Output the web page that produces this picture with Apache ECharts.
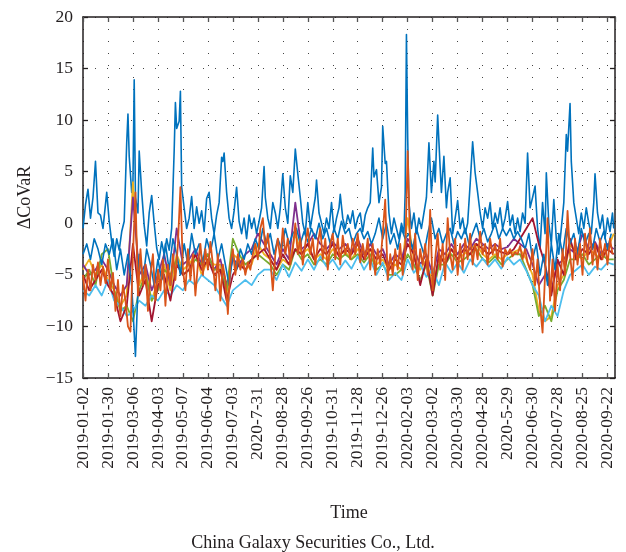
<!DOCTYPE html>
<html>
<head>
<meta charset="utf-8">
<script src="https://cdn.jsdelivr.net/npm/echarts@6/dist/echarts.min.js"></script>
<style>
  html, body { margin: 0; padding: 0; background: #fff; }
  #chart { width: 626px; height: 552px; }
</style>
</head>
<body>
<div id="chart"></div>
<script>
// Trading-day tick labels, one every 20 trading days
const dateLabels = [
  '2019-01-02', '2019-01-30', '2019-03-06', '2019-04-03', '2019-05-07', '2019-06-04',
  '2019-07-03', '2020-7-31', '2019-08-28', '2019-09-26', '2019-10-31', '2019-11-28',
  '2019-12-26', '2020-02-03', '2020-03-02', '2020-03-30', '2020-04-28', '2020-5-29',
  '2020-06-30', '2020-07-28', '2020-08-25', '2020-09-22'
];
const yTicks = [-15, -10, -5, 0, 5, 10, 15, 20];

// Upper ΔCoVaR path (trading-day index, value)
const blueMainDays = [
  0, 2, 4, 6, 8, 10, 12, 14, 16, 19,
  21, 23, 25, 27, 29, 31, 33, 35, 36, 37,
  38, 39, 40, 41, 42, 44, 45, 47, 49, 51,
  53, 55, 57, 59, 61, 63, 65, 67, 69, 71,
  73, 74, 75, 76, 77, 78, 79, 81, 83, 85,
  87, 89, 91, 93, 95, 97, 99, 101, 103, 105,
  107, 109, 111, 112, 113, 115, 117, 119, 121, 123,
  125, 127, 129, 131, 133, 135, 137, 139, 141, 143,
  145, 146, 148, 150, 152, 154, 156, 158, 160, 162,
  164, 166, 168, 170, 172, 174, 176, 178, 180, 182,
  184, 186, 187, 189, 191, 193, 195, 197, 199, 201,
  203, 205, 206, 208, 210, 212, 214, 216, 218, 220,
  222, 224, 226, 228, 230, 232, 233, 235, 237, 239,
  240, 242, 243, 245, 247, 249, 251, 253, 255, 257,
  258, 259, 260, 261, 263, 265, 267, 269, 271, 273,
  275, 277, 279, 281, 282, 284, 286, 287, 289, 291,
  292, 294, 296, 298, 300, 302, 304, 306, 308, 310,
  312, 314, 316, 318, 320, 322, 324, 326, 328, 330,
  332, 334, 336, 338, 340, 342, 344, 346, 348, 350,
  352, 354, 356, 358, 360, 362, 364, 366, 368, 370,
  371, 373, 375, 377, 379, 381, 383, 385, 387, 388,
  390, 391, 393, 395, 397, 399, 401, 403, 405, 407,
  409, 410, 412, 414, 416, 418, 420, 422, 424, 425
];
const blueMainVals = [
  -0.5, 1.8, 3.3, 0.5, 2.5, 6.0, 1.0, 0.8, -0.5, 3.0,
  0.2, -1.8, -3.2, -1.5, -2.6, -0.8, 0.2, 7.8, 10.6, 6.5,
  6.4, 3.0, 4.0, 13.9, 2.5, 1.0, 7.0, 3.0, -0.2, -2.2,
  1.0, 2.7, 0.0, -2.4, -3.5, -1.8, -3.0, -1.5, -2.6, -0.5,
  7.0, 11.7, 9.2, 9.3, 9.9, 12.8, 3.5, 1.5, -0.5, 0.5,
  2.6, -0.5, 1.6, 0.0, 1.2, -0.8, 2.4, 3.0, 0.5, -1.0,
  0.8, 2.0, 6.4, 6.0, 6.8, 3.0, 0.5, -0.5, 1.2, 3.5,
  0.2, -1.0, 0.5, -1.5, 0.8, -0.5, 0.5, -1.0, 0.2, 1.5,
  5.5, 2.5, 0.5, -0.5, 2.0, 1.0, -0.5, 1.5, 4.8, 1.5,
  0.0, 4.6, 3.0, 7.2, 4.8, 2.5, 0.0, -1.0, 2.0, -0.5,
  1.0, 2.5, 4.2, 1.0, 0.0, -1.0, 0.5, -0.5, 2.0, -0.8,
  0.5, 1.5, 2.8, 0.5, -0.5, 0.8, 0.0, 1.2, -0.5, 0.5,
  1.0, -0.8, 0.8, 1.5, 2.0, 7.3, 4.5, 5.2, 2.0, 3.5,
  9.4, 5.8, 6.0, 1.0, -1.0, 0.5, -0.5, -1.5, 0.0, -1.0,
  3.0, 18.3, 8.3, 2.0, -0.5, 1.0, -1.0, 0.5, -0.5, 1.0,
  2.5, 7.8, 3.0, 6.0, 4.0, 10.5, 5.4, 3.0, 6.5, 1.5,
  3.0, 4.4, -1.0, 0.5, 2.2, -0.5, 0.5, -1.0, 0.0, 3.8,
  7.9, 4.9, 3.0, 1.0, -0.5, 1.5, 0.5, 2.0, -0.5, 1.0,
  0.0, 1.5, -0.5, 0.5, 2.1, -0.2, 0.8, -1.0, 0.5, -0.8,
  1.0, 0.0, 6.8, 1.5, 2.5, 3.6, -0.5, -2.5, 2.0, -1.0,
  4.9, 0.0, -2.0, 2.3, -1.5, -3.0, -0.5, 2.0, 8.6, 7.0,
  11.6, 6.0, 2.0, 0.5, -1.0, 1.0, -0.5, 1.5, 0.0, -1.0,
  2.0, 4.8, 1.0, -0.5, 0.8, -1.5, 0.5, -0.8, 1.0, -0.5
];

// Sampled every 2 trading days
const STEP_ORANGE = 2;
const orangeVals = [
  -5.0, -7.5, -4.5, -6.5, -4.0, -5.5, -3.8, -6.0, -4.2, -5.8,
  -3.5, -6.5, -4.8, -8.5, -5.5, -9.0, -6.0, -7.5, -10.0, -10.5,
  -3.0, 3.0, -7.0, -2.5, -6.0, -4.0, -8.5, -5.0, -3.0, -7.5,
  -4.5, -6.5, -3.5, -8.0, -4.0, -6.0, -3.0, -5.5, -2.0, 3.5,
  -4.5, -6.5, -2.5, -5.5, -3.0, -7.0, -4.0, -2.0, -5.0, -2.5,
  -4.5, -1.8, -4.0, -6.5, -3.0, -7.5, -4.0, -5.5, -8.8, -4.0,
  -2.5, -5.0, -3.0, -4.5, -3.5, -5.0, -3.8, -4.5, -3.0, -2.0,
  -3.5, -0.5, 0.5, -2.5, -1.0, -3.5, -6.5, -3.0, -1.5, -3.5,
  -0.5, -3.0, -1.5, -4.0, -2.5, 0.0, -3.0, -1.5, -4.0, -2.0,
  -0.5, -3.0, -1.5, -4.0, -2.0, -0.5, -3.5, -1.5, -4.5, -2.0,
  -1.0, -3.5, -1.5, -4.0, -1.2, -3.0, -2.0, -3.5, -1.5, -3.0,
  -1.0, -3.8, -2.0, -3.5, -1.5, -4.5, -2.0, -5.0, -2.5, -4.0,
  -1.0, 2.3, -5.5, -3.0, -5.0, -2.5, -4.5, -2.0, -5.0, -3.0,
  7.0, -2.5, -4.5, -1.0, -5.5, -2.5, -4.0, -2.0, -5.0, 1.3,
  -6.5, -3.5, -1.0, -4.5, -2.0, -5.5, 0.5, -3.0, -4.5, -1.5,
  -5.0, -2.0, -4.5, -1.5, -3.5, -1.0, -4.0, -2.0, -3.5, -0.8,
  -3.0, -2.0, -4.0, -1.5, -3.0, -2.0, -3.5, -1.5, -4.2, -2.5,
  -3.0, -2.5, -3.2, -2.8, -3.0, -2.2, -3.5, -2.5, -3.8, -4.5,
  -2.5, -6.0, -3.5, -8.0, -10.6, -5.0, 0.5, -7.5, -3.5, -8.5,
  -4.0, -6.5, -2.5, -5.0, 1.2, -3.0, -5.5, -1.5, -4.0, -2.0,
  -5.0, -1.0, -3.5, -0.5, -4.0, -2.0, -4.5, -1.5, -3.5, -2.0,
  -4.0, -1.5, -3.0
];

// Sampled every 3 trading days
const STEP_FINE = 3;
const blueLowVals = [
  -3.0, -2.0, -3.5, -1.5, -2.5, -4.0, -2.0, -3.0, -1.5, -4.5,
  -2.5, -5.0, -3.0, -6.0, -12.9, -3.0, -5.5, -2.5, -4.0, -6.0,
  -3.5, -5.5, -2.0, -4.5, -1.5, -3.0, -5.0, -2.0, -4.0, -1.0,
  -3.0, -2.0, -3.8, -1.5, -2.8, -1.0, -3.5, -2.0, -4.0, -6.0,
  -3.0, -4.5, -2.5, -3.5, -2.0, -3.0, -1.5, -2.5, -0.5, -2.0,
  -1.0, -3.0, -1.5, -2.5, -0.5, -2.0, -1.0, -0.5, -2.0, -0.8,
  -1.8, -0.5, -1.5, 0.0, -1.5, -0.5, -2.0, -0.5, -1.5, 0.2,
  -1.0, -0.5, -2.0, -1.0, -0.5, -1.5, -0.8, -2.0, -1.0, 0.5,
  -1.5, 0.0, -2.0, -1.0, -2.5, -0.5, -1.5, -1.0, -2.5, -0.5,
  -1.8, -3.0, -1.0, 0.5, -1.5, -0.5, -2.0, -1.0, -0.5, -2.0,
  -0.8, -1.5, -0.5, -2.0, -1.0, 0.0, -1.5, -0.5, -1.8, -1.0,
  0.0, -1.5, -0.5, -1.2, -0.5, -1.5, -0.8, -1.5, -2.5, -1.0,
  -3.5, -2.0, -5.0, -3.0, -6.0, -2.0, -4.5, -1.0, -3.0, -0.5,
  -2.0, -1.0, -3.0, -0.5, -2.0, -1.0, -2.5, -0.5, -1.8, -0.8,
  -2.5, -1.0
];

// Sampled every 5 trading days
const STEP_COARSE = 5;
const yellowVals = [
  -4.5, -3.5, -5.0, -4.0, -5.5, -6.5, -8.0, -7.0, 4.0, -6.0,
  -4.5, -7.5, -5.5, -4.0, -6.5, -3.0, -4.5, -4.0, -3.0, -5.0,
  -3.5, -4.0, -4.0, -7.0, -3.0, -3.5, -4.5, -4.0, -2.0, -3.0,
  -3.5, -4.5, -3.5, -4.0, -1.0, -3.0, -2.5, -3.5, -3.0, -3.5,
  -2.5, -3.0, -2.8, -3.5, -2.5, -3.0, -2.5, -4.0, -3.5, -4.5,
  -4.0, -4.5, 0.5, -3.5, -4.5, -3.5, -6.0, -3.5, -3.5, -2.5,
  -3.5, -3.0, -2.5, -2.0, -3.0, -3.5, -3.0, -3.5, -3.0, -2.8,
  -2.5, -3.5, -5.0, -8.5, -9.5, -9.0, -6.0, -5.0, -2.0, -3.0,
  -3.5, -2.5, -3.0, -3.5, -2.5, -1.0
];
const purpleVals = [
  -4.0, -5.0, -4.5, -3.5, -4.5, -6.0, -7.0, -6.0, 2.5, -5.0,
  -4.0, -6.5, -5.0, -3.0, -6.0, -0.5, -4.0, -3.5, -2.5, -4.0,
  -3.0, -4.5, -3.5, -6.0, -3.5, -4.0, -3.0, -2.5, -1.0, -2.0,
  -3.0, -4.0, -2.5, -3.5, 2.0, -2.5, -2.0, -1.0, -2.0, -2.5,
  -1.8, -2.5, -2.0, -2.8, -1.5, -3.0, -2.0, -3.0, -2.5, -4.0,
  -3.0, -3.5, -1.5, -2.5, -4.0, -3.0, -5.0, -2.5, -3.0, -2.0,
  -3.0, -2.0, -2.5, -1.5, -2.0, -2.5, -2.0, -2.5, -2.3, -1.5,
  -2.0, -2.5, -4.0, -6.0, -5.0, -6.5, -4.0, -3.5, -2.5, -3.0,
  -1.0, -2.5, -1.8, -3.0, -2.0, -2.5
];
const greenVals = [
  -5.5, -4.5, -6.0, -3.0, -2.5, -6.5, -8.5, -8.0, -9.5, -6.5,
  -5.0, -7.5, -6.5, -4.5, -5.0, -3.5, -5.0, -4.5, -3.5, -4.0,
  -3.0, -4.5, -4.5, -6.5, -1.5, -3.0, -4.0, -3.5, -3.0, -3.5,
  -4.0, -5.0, -4.0, -4.5, -2.5, -3.5, -3.0, -4.0, -3.5, -4.0,
  -3.0, -3.5, -3.0, -3.5, -3.0, -3.8, -3.0, -4.5, -4.0, -5.0,
  -5.0, -4.5, -3.0, -4.0, -5.5, -4.0, -7.0, -4.0, -4.0, -3.0,
  -3.8, -3.5, -3.0, -2.5, -3.5, -3.8, -3.2, -4.0, -3.5, -3.0,
  -3.0, -4.5, -6.0, -9.0, -8.0, -9.5, -6.5, -5.5, -3.5, -3.5,
  -3.0, -4.0, -3.5, -3.0, -3.5, -3.5
];
const cyanVals = [
  -6.5, -7.0, -6.0, -7.0, -5.5, -7.5, -8.0, -9.0, -8.5, -7.5,
  -8.0, -7.0, -7.5, -6.5, -7.0, -6.0, -6.5, -5.5, -6.0, -5.0,
  -5.5, -6.0, -7.0, -8.0, -6.5, -6.0, -5.5, -6.0, -5.0, -4.5,
  -4.5, -5.5, -4.0, -5.2, -3.8, -4.6, -3.5, -4.5, -3.2, -4.2,
  -3.5, -4.5, -3.6, -4.4, -3.2, -4.5, -3.5, -5.0, -3.8, -5.5,
  -4.8, -5.5, -3.5, -4.8, -4.0, -5.2, -4.5, -6.0, -3.8, -4.8,
  -3.8, -4.8, -3.5, -4.2, -3.4, -4.2, -3.5, -4.4, -3.3, -4.0,
  -3.5, -4.6, -6.0, -7.0, -9.5, -8.0, -9.0, -6.5, -5.0, -4.5,
  -4.0, -5.0, -4.2, -4.5, -3.8, -4.0
];
const darkRedVals = [
  -5.0, -6.5, -5.5, -4.5, -6.0, -7.0, -9.5, -8.0, -2.0, -7.0,
  -5.5, -9.5, -6.0, -5.0, -7.5, -4.0, -5.0, -4.5, -3.0, -4.5,
  -3.5, -5.0, -4.5, -7.5, -5.0, -4.0, -4.5, -3.5, -3.0, -2.5,
  -3.5, -4.5, -3.0, -4.0, -2.5, -3.0, -2.0, -3.5, -2.5, -3.0,
  -2.0, -3.2, -2.5, -3.0, -2.0, -3.5, -2.5, -3.5, -3.0, -4.5,
  -3.5, -4.0, -2.0, -3.0, -6.0, -3.5, -7.0, -3.0, -4.0, -2.5,
  -3.5, -2.5, -3.0, -2.0, -2.5, -3.0, -2.5, -2.8, -3.0, -2.5,
  -1.5, -0.5, 0.5, -2.0, -4.0, -7.0, -3.5, -5.0, -1.5, -3.5,
  -2.5, -3.0, -2.0, -3.5, -2.5, -3.0
];

const FONT = '"Liberation Serif", "DejaVu Serif", serif';
const INK = '#231f20';

function stepped(vals, step) {
  return vals.map((v, i) => [i * step, v]);
}
function paired(days, vals) {
  return days.map((d, i) => [d, vals[i]]);
}
function lineSeries(data, color, width) {
  return {
    type: 'line',
    data: data,
    showSymbol: false,
    symbol: 'none',
    silent: true,
    animation: false,
    lineStyle: { color: color, width: width, join: 'round' },
    xAxisIndex: 0,
    yAxisIndex: 0
  };
}

const dotted = { show: true, lineStyle: { color: '#444', width: 1, type: [1, 11] } };

const chart = echarts.init(document.getElementById('chart'), null, { renderer: 'canvas' });
chart.setOption({
  backgroundColor: '#fff',
  animation: false,
  grid: { left: 83, right: 11, top: 17, bottom: 174, containLabel: false },
  xAxis: [
    {
      type: 'value', position: 'bottom', min: 0, max: 426, interval: 20,
      axisLine: { show: true, onZero: false, lineStyle: { color: INK, width: 1.5 } },
      axisTick: { show: true, inside: true, length: 5, lineStyle: { color: '#555', width: 1.3 } },
      axisLabel: {
        show: true, rotate: 90, margin: 9, showMaxLabel: false,
        fontFamily: FONT, fontSize: 17.5, color: INK,
        formatter: v => (v % 20 === 0 && dateLabels[v / 20]) ? dateLabels[v / 20] : ''
      },
      splitLine: dotted,
      name: 'Time', nameLocation: 'middle', nameGap: 126,
      nameTextStyle: { fontFamily: FONT, fontSize: 18, color: INK }
    },
    {
      type: 'value', position: 'top', min: 0, max: 426, interval: 20,
      axisLine: { show: true, onZero: false, lineStyle: { color: INK, width: 1.5 } },
      axisTick: { show: true, inside: true, length: 5, lineStyle: { color: '#555', width: 1.3 } },
      axisLabel: { show: false },
      splitLine: { show: false }
    }
  ],
  yAxis: [
    {
      type: 'value', position: 'left', min: yTicks[0], max: yTicks[yTicks.length - 1], interval: 5,
      axisLine: { show: true, onZero: false, lineStyle: { color: INK, width: 1.5 } },
      axisTick: { show: true, inside: true, length: 5, lineStyle: { color: INK, width: 1.3 } },
      axisLabel: {
        margin: 10, fontFamily: FONT, fontSize: 17.5, color: INK,
        formatter: v => String(v).replace('-', '\u2212')
      },
      splitLine: dotted,
      name: '\u0394CoVaR', nameLocation: 'middle', nameGap: 43, nameRotate: 90,
      nameTextStyle: { fontFamily: FONT, fontSize: 18, color: INK }
    },
    {
      type: 'value', position: 'right', min: yTicks[0], max: yTicks[yTicks.length - 1], interval: 5,
      axisLine: { show: true, onZero: false, lineStyle: { color: INK, width: 1.5 } },
      axisTick: { show: true, inside: true, length: 5, lineStyle: { color: INK, width: 1.3 } },
      axisLabel: { show: false },
      splitLine: { show: false }
    }
  ],
  title: {
    text: 'China Galaxy Securities Co., Ltd.',
    left: 'center', top: 529,
    textStyle: { fontFamily: FONT, fontSize: 18, fontWeight: 'normal', color: INK }
  },
  series: [
    lineSeries(paired(blueMainDays, blueMainVals), '#0072BD', 1.6),
    lineSeries(stepped(yellowVals, STEP_COARSE), '#EDB120', 1.8),
    lineSeries(stepped(purpleVals, STEP_COARSE), '#7E2F8E', 1.8),
    lineSeries(stepped(greenVals, STEP_COARSE), '#77AC30', 1.8),
    lineSeries(stepped(cyanVals, STEP_COARSE), '#4DBEEE', 1.8),
    lineSeries(stepped(darkRedVals, STEP_COARSE), '#A2142F', 1.8),
    lineSeries(stepped(blueLowVals, STEP_FINE), '#0072BD', 1.6),
    lineSeries(stepped(orangeVals, STEP_ORANGE), '#D95319', 1.8)
  ]
});
</script>
</body>
</html>
